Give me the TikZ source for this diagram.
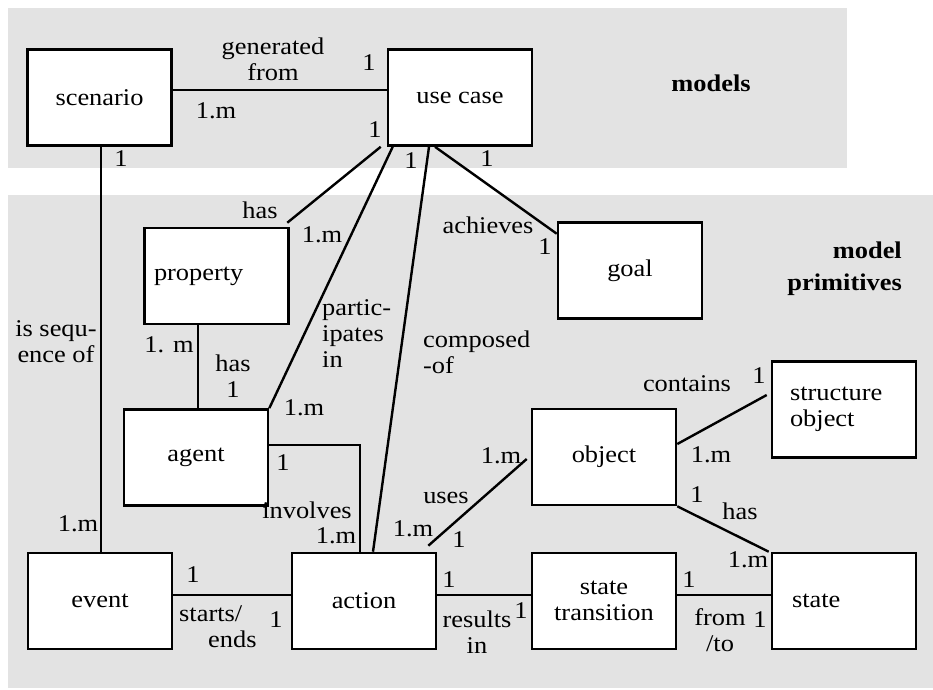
\documentclass[tikz,border=0pt]{standalone}
\usepackage{fontspec}
\setmainfont{Liberation Serif}[FakeStretch=1.1]
\definecolor{bgshade}{gray}{0.89}
\begin{document}
\begin{tikzpicture}[x=1pt,y=-1pt,
  font=\fontsize{24}{26}\selectfont,
  entity/.style={draw, line width=2.6pt, fill=white, minimum width=144pt,
                 minimum height=96pt, inner sep=0pt},
  link/.style={line width=2.4pt},
  lbl/.style={inner sep=0pt, anchor=base},
  mlbl/.style={inner sep=0pt, align=center},
  boldtext/.style={font=\fontsize{24}{26}\selectfont\bfseries}]

\useasboundingbox (0,0) rectangle (933,689);

% shaded layers
\fill[bgshade] (8,8) rectangle (847,168);
\fill[bgshade] (8,195) rectangle (933,688);

% entities
\node[entity] (scen) at (99.5,97.5) {scenario};
\node[entity] (uc) at (460,97.5) {use case};
\node[entity, text width=125pt, align=left] (prop) at (216.5,276) {property};
\node[entity] (goal) at (630,270.5) {goal};
\node[entity, text width=108pt, align=left] (sobj) at (844,409.5) {structure\\object};
\node[entity] (ag) at (196,457.5) {agent};
\node[entity] (obj) at (604,457) {object};
\node[entity] (ev) at (100,601) {event};
\node[entity] (act) at (364,601) {action};
\node[entity, align=center] (st) at (604,601) {state\\transition};
\node[entity, text width=104pt, align=left] (state) at (844,601) {state};

% relationships
\draw[link] ([yshift=7.5pt]scen.east) -- ([yshift=7.5pt]uc.west);
\draw[link] ([xshift=1.5pt]scen.south) -- ([xshift=1pt]ev.north);
\draw[link] ([xshift=-6pt]uc.south west) -- ([xshift=-2.5pt,yshift=4pt]prop.north east);
\draw[link] ([xshift=6pt]uc.south west) -- (ag.north east);
\draw[link] ([xshift=-31pt]uc.south) -- ([xshift=9pt]act.north);
\draw[link] ([xshift=-25pt]uc.south) -- ([yshift=-12.5pt]goal.north west);
\draw[link] ([xshift=-18.5pt]prop.south) -- ([xshift=2pt]ag.north);
\draw[link] ([yshift=12.5pt]ag.east) -| ([xshift=-4pt]act.north);
\draw[link] ([yshift=6pt]ev.east) -- ([yshift=6pt]act.west);
\draw[link] ([yshift=6pt]act.east) -- ([yshift=6pt]st.west);
\draw[link] ([yshift=6pt]st.east) -- ([yshift=6pt]state.west);
\draw[link] ([xshift=-9pt,yshift=6pt]act.north east) -- ([xshift=-4pt,yshift=-2pt]obj.west);
\draw[link] ([yshift=13pt]obj.east) -- ([xshift=-4pt,yshift=14.5pt]sobj.west);
\draw[link] (obj.south east) -- ([xshift=-2pt]state.north west);

% section titles
\node[lbl, boldtext] (tmodels) at (711,91) {models};
\node[mlbl, boldtext, align=right, anchor=east] (tprim) at (902,268.5) {model\\[6pt]primitives};

% relationship names
\node[mlbl] (lgen) at (273,59) {generated\\from};
\node[mlbl] (lseq) at (56,342) {is sequ-\\ence of};
\node[mlbl, align=left, anchor=west] (lpart) at (322,334) {partic-\\ipates\\in};
\node[mlbl, align=left, anchor=west] (lcomp) at (423,352) {composed\\-of};
\node[mlbl, align=left, anchor=west] (lstart) at (179,627) {starts/\\\hspace*{29pt}ends};
\node[mlbl] (lres) at (477,632) {results\\in};
\node[mlbl] (lfrom) at (720,630) {from\\/to};
\node[lbl] (lhas1) at (260,218) {has};
\node[lbl] (lhas2) at (233,371) {has};
\node[lbl] (lach) at (488,233) {achieves};
\node[lbl] (lcont) at (687,391) {contains};
\node[lbl] (linv) at (307,518) {involves};
\node[lbl] (luses) at (446,503) {uses};
\node[lbl] (lhas3) at (740,519) {has};

% cardinalities
\node[lbl] (c1) at (369,70) {1};
\node[lbl] (c2) at (216,118) {1.m};
\node[lbl] (c3) at (375,137) {1};
\node[lbl] (c4) at (121,166) {1};
\node[lbl] (c5) at (411,168) {1};
\node[lbl] (c6) at (487,166) {1};
\node[lbl] (c7) at (322,242) {1.m};
\node[lbl] (c8) at (169,352) {1. m};
\node[lbl] (c9) at (233,397) {1};
\node[lbl] (c10) at (304,415) {1.m};
\node[lbl] (c11) at (545,254) {1};
\node[lbl] (c12) at (759,383) {1};
\node[lbl] (c13) at (283,470) {1};
\node[lbl] (c14) at (336,543) {1.m};
\node[lbl] (c15) at (78,531) {1.m};
\node[lbl] (c16) at (413,536) {1.m};
\node[lbl] (c17) at (459,547) {1};
\node[lbl] (c18) at (501,463) {1.m};
\node[lbl] (c19) at (193,582) {1};
\node[lbl] (c20) at (276,627) {1};
\node[lbl] (c21) at (449,587) {1};
\node[lbl] (c22) at (521,618) {1};
\node[lbl] (c23) at (689,587) {1};
\node[lbl] (c24) at (760,627) {1};
\node[lbl] (c25) at (748,567) {1.m};
\node[lbl] (c26) at (711,462) {1.m};
\node[lbl] (c27) at (697,502) {1};
\end{tikzpicture}
\end{document}
